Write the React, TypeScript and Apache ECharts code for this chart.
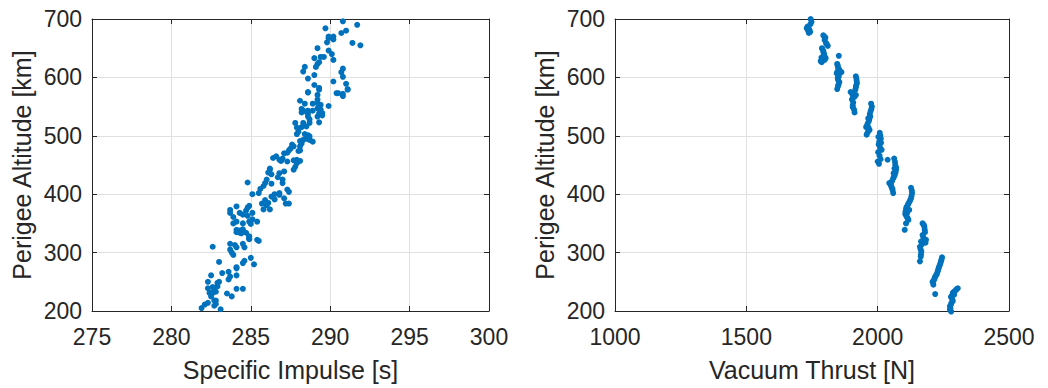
import React, { useEffect, useRef } from "react";
import * as echarts from "echarts";

// Left panel: [Specific Impulse (s), Perigee Altitude (km)]
const impulsePoints: number[][] = [
  [281.9,205],[282.1,211],[282.3,214],[282.7,209],[282.8,212],[282.7,218],[282.8,218],[283.1,203],[282.5,225],[282.6,231],
  [282.4,231],[282.8,233],[282.3,239],[282.6,241],[282.7,238],[282.9,242],[282.9,248],[283.0,250],[282.3,250],[282.5,261],
  [283.5,230],[283.8,225],[284.1,238],[284.5,238],[283.2,265],[283.6,267],[283.7,259],[283.6,254],[284.1,261],[284.1,273],
  [284.1,275],[284.5,282],[284.6,286],[285.2,280],[285.0,291],[283.0,284],[282.6,310],[283.7,315],[284.0,313],[283.7,305],
  [283.8,300],[283.9,296],[284.1,309],[284.5,315],[284.6,309],[284.9,324],[284.9,328],[285.5,320],[284.1,335],[284.3,334],
  [284.1,339],[284.3,338],[284.5,340],[284.7,334],[284.4,333],[284.9,327],[284.9,323],[285.4,322],
  [283.9,350],[284.1,353],[284.5,350],[284.9,353],[285.0,349],[285.4,353],[285.1,357],
  [283.7,373],[283.7,368],[283.9,361],[284.1,379],[284.3,368],[284.5,365],[284.7,372],[284.8,377],[284.9,380],[285.1,368],[284.8,363],
  [285.7,384],[285.9,390],[286.1,385],[286.0,381],[286.2,374],[285.8,374],[286.3,396],[286.5,391],[286.8,399],[286.5,400],
  [286.8,402],[287.1,393],[287.2,384],[287.4,384],[287.3,408],[287.4,404],
  [284.8,420],[285.1,400],[285.5,402],[285.6,409],[285.8,414],[285.9,419],[286.0,425],[286.3,418],[286.3,434],[286.1,437],
  [286.2,442],[286.7,429],[286.8,436],[287.0,425],[287.1,439],[287.0,419],[287.7,442],[287.8,447],[287.9,453],[288.1,457],
  [286.9,458],[287.3,456],
  [286.2,444],[286.4,462],[286.6,465],[286.8,459],[286.9,457],[287.0,461],[287.1,470],[287.3,471],[287.4,475],[287.5,478],
  [287.6,485],[287.7,482],[287.7,458],[287.9,459],[288.0,474],[288.1,475],[288.1,482],[288.2,487],[288.1,491],[288.3,493],
  [288.5,495],[288.6,501],[288.9,490],[288.7,493],[288.7,499],[288.4,503],[287.9,503],[288.0,507],[287.9,514],[287.8,522],
  [288.2,515],[288.3,522],[288.5,516],[288.7,522],[288.7,528],[288.6,533],[288.6,538],[288.5,541],[288.3,543],[288.2,546],
  [288.2,540],[288.1,560],[288.4,555],[288.6,543],[288.9,555],[288.9,543],[289.2,547],[289.2,556],[289.2,562],[289.4,553],
  [289.4,545],[289.5,539],[289.5,535],[289.3,538],[289.2,533],[289.3,523],[289.9,551],[288.6,574],[289.3,579],[290.4,573],
  [290.8,568],[291.1,579],
  [290.8,696],[291.7,690],[289.7,684],[291.0,680],[290.7,676],[289.9,670],[290.2,670],[289.9,667],[290.2,665],[289.8,660],
  [291.4,659],[291.9,655],[289.2,650],[289.9,646],[290.1,640],[289.0,633],[289.4,635],[289.6,635],[289.3,626],[289.2,623],
  [289.1,618],[290.2,630],[288.4,618],[288.3,610],[288.6,598],[289.0,604],[290.8,615],[290.7,609],[290.8,601],[290.2,593],
  [289.0,587],[289.3,582],[291.0,589],[291.1,580],[288.6,575],[289.2,570],[290.5,573],[290.8,572]
];

// Right panel: [Vacuum Thrust (N), Perigee Altitude (km)]
const thrustPoints: number[][] = [
  [1745,700],[1748,695],[1744,691],[1733,687],[1730,684],[1740,682],[1743,678],[1738,676],[1735,680],
  [1793,672],[1797,670],[1801,668],[1798,664],[1803,659],[1806,657],[1810,654],[1788,650],[1790,648],[1793,645],
  [1796,640],[1786,634],[1790,631],[1798,630],[1802,633],[1783,628],[1787,626],[1798,636],[1794,642],
  [1852,637],[1846,623],[1848,620],[1849,617],[1852,614],[1854,613],[1862,609],[1844,607],[1850,604],[1852,602],
  [1848,599],[1849,596],[1854,592],[1851,588],[1849,585],[1846,580],[1847,610],
  [1917,602],[1919,598],[1920,594],[1921,590],[1918,586],[1917,583],[1915,579],[1897,575],[1902,573],[1905,570],
  [1912,567],[1917,570],[1906,565],[1902,562],[1907,557],[1905,552],[1905,549],[1910,545],[1912,540],
  [1975,555],[1978,550],[1976,546],[1973,542],[1970,537],[1972,533],[1968,528],[1966,525],[1962,521],[1960,518],
  [1965,514],[1969,510],[1962,506],[1958,502],[1956,515],[1964,530],
  [2008,505],[2010,500],[2012,495],[2006,490],[2004,485],[2009,480],[2015,476],[2002,472],[2007,466],[2011,460],
  [2000,456],[2005,452],[2013,488],[2003,498],
  [2038,459],[2063,461],[2066,455],[2067,450],[2070,446],[2070,442],[2068,437],[2065,433],[2062,430],[2059,427],
  [2054,422],[2044,419],[2050,416],[2052,413],[2055,410],[2057,407],[2059,402],[2061,436],[2064,444],
  [2127,411],[2130,406],[2131,402],[2129,397],[2127,393],[2124,390],[2121,387],[2117,384],[2114,381],[2110,378],
  [2108,375],[2120,373],[2106,370],[2105,366],[2110,362],[2114,359],[2117,356],[2108,350],[2103,339],[2112,368],
  [2171,350],[2176,347],[2178,344],[2179,339],[2180,335],[2171,330],[2174,326],[2184,322],[2182,317],[2165,319],
  [2168,314],[2161,310],[2163,306],[2166,302],[2165,297],[2164,293],[2161,285],
  [2245,292],[2243,288],[2241,285],[2239,282],[2237,279],[2234,276],[2232,273],[2230,270],[2228,267],[2225,263],
  [2222,261],[2218,258],[2216,255],[2213,252],[2209,250],[2212,245],[2219,229],
  [2305,239],[2300,237],[2296,235],[2290,233],[2286,231],[2291,228],[2282,226],[2279,224],[2284,220],[2286,217],
  [2281,214],[2279,211],[2275,208],[2277,205],[2275,202],[2280,199]
];

const impulseRange = { min: 275, max: 300, interval: 5 };
const thrustRange = { min: 1000, max: 2500, interval: 500 };
const altitudeRange = { min: 200, max: 700, interval: 100 };
const xTitles = ["Specific Impulse [s]", "Vacuum Thrust [N]"];
const yTitle = "Perigee Altitude [km]";

const FONT = "'Liberation Sans', Arial, Helvetica, sans-serif";
const INK = "#262626";
const GRID = "#e0e0e0";
const DOT = "#0072BD";

const plain = (v: number) => String(v);

export default function App() {
  const ref = useRef<HTMLDivElement>(null);
  useEffect(() => {
    if (!ref.current) return;
    const chart = echarts.init(ref.current, undefined, { renderer: "svg" });

    const mainX = (gridIndex: number, r: any, name: string) => ({
      type: "value", gridIndex, position: "bottom", ...r,
      name, nameLocation: "middle", nameGap: 46,
      nameTextStyle: { fontSize: 25, color: INK, fontFamily: FONT },
      axisLine: { show: true, onZero: false, lineStyle: { color: INK, width: 1 } },
      axisTick: { show: true, inside: true, length: 5, lineStyle: { color: INK } },
      axisLabel: { fontSize: 23, color: INK, fontFamily: FONT, margin: 14, formatter: plain },
      splitLine: { show: true, lineStyle: { color: GRID, width: 1 } },
    });
    const topX = (gridIndex: number, r: any) => ({
      type: "value", gridIndex, position: "top", ...r,
      axisLine: { show: true, onZero: false, lineStyle: { color: INK, width: 1 } },
      axisTick: { show: true, inside: true, length: 5, lineStyle: { color: INK } },
      axisLabel: { show: false },
      splitLine: { show: false },
    });
    const mainY = (gridIndex: number) => ({
      type: "value", gridIndex, position: "left", ...altitudeRange,
      name: yTitle, nameLocation: "middle", nameGap: 58, nameRotate: 90,
      nameTextStyle: { fontSize: 25, color: INK, fontFamily: FONT },
      axisLine: { show: true, onZero: false, lineStyle: { color: INK, width: 1 } },
      axisTick: { show: true, inside: true, length: 5, lineStyle: { color: INK } },
      axisLabel: { fontSize: 23, color: INK, fontFamily: FONT, margin: 10, formatter: plain },
      splitLine: { show: true, lineStyle: { color: GRID, width: 1 } },
    });
    const rightY = (gridIndex: number) => ({
      type: "value", gridIndex, position: "right", ...altitudeRange,
      axisLine: { show: true, onZero: false, lineStyle: { color: INK, width: 1 } },
      axisTick: { show: true, inside: true, length: 5, lineStyle: { color: INK } },
      axisLabel: { show: false },
      splitLine: { show: false },
    });

    chart.setOption({
      animation: false,
      backgroundColor: "#ffffff",
      grid: [
        { left: 92, right: 559, top: 19, bottom: 77 },
        { left: 615, right: 39, top: 19, bottom: 77 },
      ],
      xAxis: [
        mainX(0, impulseRange, xTitles[0]),
        topX(0, impulseRange),
        mainX(1, thrustRange, xTitles[1]),
        topX(1, thrustRange),
      ],
      yAxis: [mainY(0), rightY(0), mainY(1), rightY(1)],
      series: [
        {
          type: "scatter", xAxisIndex: 0, yAxisIndex: 0, data: impulsePoints,
          symbolSize: 6, itemStyle: { color: DOT, opacity: 1 }, clip: false,
        },
        {
          type: "scatter", xAxisIndex: 2, yAxisIndex: 2, data: thrustPoints,
          symbolSize: 6, itemStyle: { color: DOT, opacity: 1 }, clip: false,
        },
      ],
    });
    return () => chart.dispose();
  }, []);
  return (
    <div
      ref={ref}
      style={{ position: "fixed", left: 0, top: 0, width: 1048, height: 388, background: "#fff" }}
    />
  );
}
